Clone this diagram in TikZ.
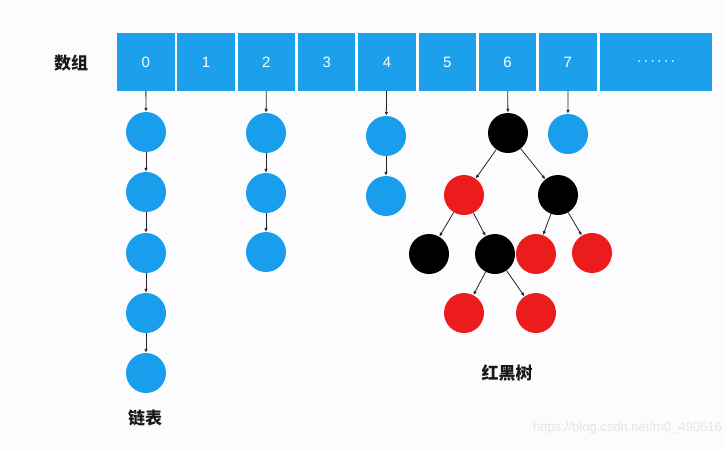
\documentclass[tikz,border=0pt]{standalone}
\usepackage{fontspec}
\setmainfont{Liberation Sans}
\newfontfamily\cjk{Noto Sans CJK SC}
\usetikzlibrary{arrows.meta}
\definecolor{arrblue}{RGB}{28,160,236}
\definecolor{nodeblue}{RGB}{24,158,236}
\definecolor{rbred}{RGB}{236,28,28}
\definecolor{bg}{RGB}{252,252,254}
\tikzset{
  cell/.style={fill=arrblue, draw=none, minimum height=58pt, inner sep=0pt, text=white, font=\fontsize{15}{15}\selectfont},
  bnode/.style={circle, fill=nodeblue, minimum size=40pt, inner sep=0pt},
  rnode/.style={circle, fill=rbred, minimum size=40pt, inner sep=0pt},
  knode/.style={circle, fill=black, minimum size=40pt, inner sep=0pt},
  link/.style={draw=black!85, line width=0.8pt, -{Latex[length=4pt,width=3.5pt]}},
  lbl/.style={font=\cjk\bfseries\fontsize{17}{17}\selectfont, text=black!90},
}
\begin{document}
\begin{tikzpicture}[x=1pt,y=-1pt]
\fill[bg] (0,0) rectangle (726,450);
\useasboundingbox (0,0) rectangle (726,450);
% array
\foreach \i/\t in {0/0,1/1,2/2,3/3,4/4,5/5,6/6,7/7}{
  \node[cell, minimum width=57.5pt] (c\i) at ({145.8+60.3*\i},62) {\t};
}
\node[cell, minimum width=112pt] (c8) at (656,62) {.\hspace{2.6pt}.\hspace{2.6pt}.\hspace{2.6pt}.\hspace{2.6pt}.\hspace{2.6pt}.};
\node[lbl] (arrlbl) at (71,63) {数组};
% chain 0
\node[bnode] (a1) at (146,132) {};
\node[bnode] (a2) at (146,192) {};
\node[bnode] (a3) at (146,253) {};
\node[bnode] (a4) at (146,313) {};
\node[bnode] (a5) at (146,373) {};
\draw[link] (c0) -- (a1);
\draw[link] (a1) -- (a2);
\draw[link] (a2) -- (a3);
\draw[link] (a3) -- (a4);
\draw[link] (a4) -- (a5);
\node[lbl] (chainlbl) at (145,418) {链表};
% chain 2
\node[bnode] (b1) at (266,133) {};
\node[bnode] (b2) at (266,193) {};
\node[bnode] (b3) at (266,252) {};
\draw[link] (c2) -- (b1);
\draw[link] (b1) -- (b2);
\draw[link] (b2) -- (b3);
% chain 4
\node[bnode] (d1) at (386,136) {};
\node[bnode] (d2) at (386,196) {};
\draw[link] (c4) -- (d1);
\draw[link] (d1) -- (d2);
% chain 7
\node[bnode] (e1) at (568,134) {};
\draw[link] (c7) -- (e1);
% red-black tree
\node[knode] (t) at (508,133) {};
\node[rnode] (tl) at (464,195) {};
\node[knode] (tr) at (558,195) {};
\node[knode] (tll) at (429,254) {};
\node[knode] (tlr) at (495,254) {};
\node[rnode] (trl) at (536,254) {};
\node[rnode] (trr) at (592,253) {};
\node[rnode] (tlrl) at (464,313) {};
\node[rnode] (tlrr) at (536,313) {};
\draw[link] (c6) -- (t);
\draw[link] (t) -- (tl);
\draw[link] (t) -- (tr);
\draw[link] (tl) -- (tll);
\draw[link] (tl) -- (tlr);
\draw[link] (tr) -- (trl);
\draw[link] (tr) -- (trr);
\draw[link] (tlr) -- (tlrl);
\draw[link] (tlr) -- (tlrr);
\node[lbl] (treelbl) at (507,373) {红黑树};
% watermark
\node[anchor=east, text=black!10, font=\fontsize{13}{13}\selectfont, inner sep=0pt] (wm) at (722,428) {https://blog.csdn.net/m0\_490516};
\end{tikzpicture}
\end{document}
